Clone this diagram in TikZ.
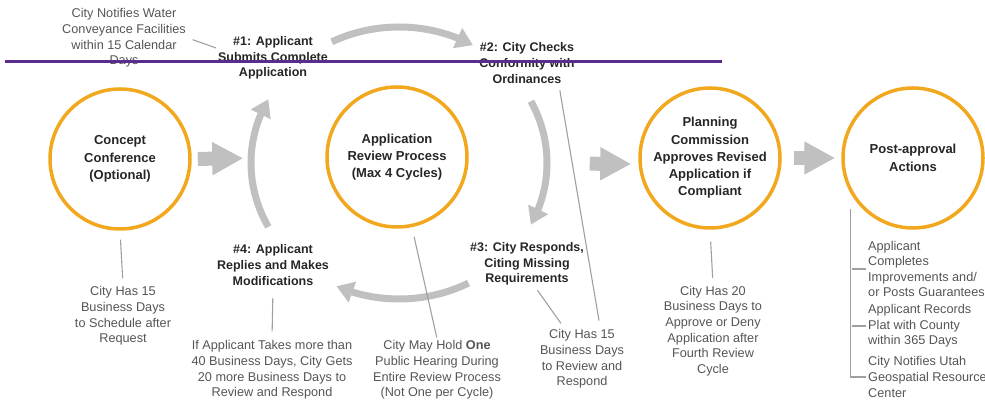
\documentclass[tikz,border=0pt]{standalone}
\usepackage{fontspec}
\setmainfont{Liberation Sans}
\usetikzlibrary{arrows.meta,bending}
\definecolor{ringorange}{RGB}{242,168,30}
\definecolor{arrowgray}{RGB}{192,192,192}
\definecolor{linegray}{RGB}{160,160,160}
\definecolor{notegray}{RGB}{85,85,85}
\definecolor{markpurple}{RGB}{91,44,142}

\begin{document}
\begin{tikzpicture}[x=1pt, y=1pt,
    stagecirc/.style={circle, draw=ringorange, line width=3.5pt, minimum size=140pt, inner sep=0pt,
        align=center, text=black!85, font=\bfseries\fontsize{13}{17.3}\selectfont},
    steplabel/.style={align=center, inner sep=2pt, text=black!85, font=\bfseries\fontsize{12.5}{15.6}\selectfont},
    note/.style={align=center, inner sep=2pt, text=notegray, font=\fontsize{12.7}{15.6}\selectfont},
    conn/.style={draw=linegray, line width=1.1pt},
    bigarrow/.style={draw=arrowgray, line width=14pt, -{Triangle[length=31pt, width=31pt]}},
    cyclearrow/.style={draw=arrowgray, line width=7pt, -{Triangle[length=17pt, width=21pt]}}]
        \useasboundingbox (0,0) rectangle (985,403);

        % stages
        \node[stagecirc] (concept) at (120, 244) {Concept\\Conference\\(Optional)};
        \node[stagecirc] (review) at (397, 246) {Application\\Review Process\\(Max 4 Cycles)};
        \node[stagecirc] (planning) at (710, 245) {Planning\\Commission\\Approves Revised\\Application if\\Compliant};
        \node[stagecirc] (postappr) at (913, 245) {Post-approval\\Actions};

        % review cycle steps
        \node[steplabel] (step1) at (273, 345) {\#1: Applicant\\Submits Complete\\Application};
        \node[steplabel] (step2) at (527, 340) {\#2: City Checks\\Conformity with\\Ordinances};
        \node[steplabel] (step3) at (527, 139) {\#3: City Responds,\\Citing Missing\\Requirements};
        \node[steplabel] (step4) at (273, 138) {\#4: Applicant\\Replies and Makes\\Modifications};

        % notes
        \node[note] (notewater) at (124, 365) {City Notifies Water\\Conveyance Facilities\\within 15 Calendar\\Days};
        \node[note] (noteconcept) at (123, 87) {City Has 15\\Business Days\\to Schedule after\\Request};
        \node[note] (notedelay) at (272, 33) {If Applicant Takes more than\\40 Business Days, City Gets\\20 more Business Days to\\Review and Respond};
        \node[note] (notehearing) at (437, 33) {City May Hold \textbf{One}\\Public Hearing During\\Entire Review Process\\(Not One per Cycle)};
        \node[note] (notereview) at (582, 44) {City Has 15\\Business Days\\to Review and\\Respond};
        \node[note] (noteplanning) at (713, 72) {City Has 20\\Business Days to\\Approve or Deny\\Application after\\Fourth Review\\Cycle};
        \node[note, align=left, anchor=west] (postone) at (866, 134) {Applicant\\Completes\\Improvements and/\\or Posts Guarantees};
        \node[note, align=left, anchor=west] (posttwo) at (866, 77) {Applicant Records\\Plat with County\\within 365 Days};
        \node[note, align=left, anchor=west] (postthree) at (866, 26) {City Notifies Utah\\Geospatial Resource\\Center};

        % flow between stages
        \draw[bigarrow, shorten <=6pt, shorten >=82pt] (concept.east) -- (review.west);
        \draw[bigarrow, shorten <=121pt, shorten >=7pt] ([yshift=-6pt]review.east) -- ([yshift=-6pt]planning.west);
        \draw[bigarrow, shorten <=12pt, shorten >=6pt] (planning.east) -- (postappr.west);

        % review cycle
        \coordinate (loopc) at (399, 240);
        \draw[cyclearrow] (loopc) ++(117:148 and 136) arc[start angle=117, end angle=60, x radius=148, y radius=136];
        \draw[cyclearrow] (loopc) ++(27:148 and 136) arc[start angle=27, end angle=-27, x radius=148, y radius=136];
        \draw[cyclearrow] (loopc) ++(-62:148 and 136) arc[start angle=-62, end angle=-115, x radius=148, y radius=136];
        \draw[cyclearrow] (loopc) ++(208:148 and 136) arc[start angle=208, end angle=152, x radius=148, y radius=136];

        % note lines
        \draw[conn, shorten <=5pt] (notewater.east) -- (step1.170);
        \draw[conn, shorten <=9pt, shorten >=6pt] (concept.south) -- (noteconcept.north);
        \draw[conn, shorten <=11pt, shorten >=7pt] (step4.south) -- (notedelay.north);
        \draw[conn, shorten <=10pt, shorten >=1pt] (review.-78) -- (notehearing.north);
        \draw[conn, shorten <=3pt, shorten >=5pt] (step3.-70) -- (notereview.120);
        \draw[conn, shorten <=5pt, shorten >=7pt] (step2.-35) -- (notereview.60);
        \draw[conn, shorten <=12pt, shorten >=6pt] (planning.south) -- (noteplanning.north);
        \draw[conn] ([yshift=-16pt]postappr.209) |- (postthree.west);
        \draw[conn] (postone.west) -- ++(-14, 0);
        \draw[conn] (posttwo.west) -- ++(-14, 0);

        \draw[markpurple, line width=3pt] (5, 341) -- (722, 341);
    \end{tikzpicture}
\end{document}
